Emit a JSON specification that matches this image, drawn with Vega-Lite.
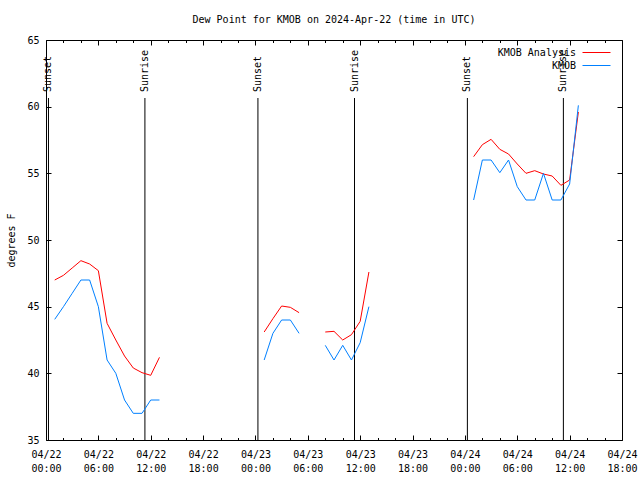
{
  "$schema": "https://vega.github.io/schema/vega-lite/v6.json",
  "width": 576,
  "height": 400,
  "autosize": "none",
  "padding": {"left": 46, "top": 40, "right": 18, "bottom": 40},
  "background": "white",
  "config": {
    "font": "DejaVu Sans Mono",
    "view": {"stroke": "#000", "strokeWidth": 1},
    "axis": {"domain": false, "grid": false, "tickColor": "#000", "labelColor": "#000", "labelFont": "DejaVu Sans Mono", "labelFontSize": 10, "titleFont": "DejaVu Sans Mono", "titleFontSize": 10, "titleFontWeight": "normal", "titleColor": "#000"}
  },
  "title": {"text": "Dew Point for KMOB on 2024-Apr-22 (time in UTC)", "fontSize": 10, "fontWeight": "normal", "font": "DejaVu Sans Mono", "color": "#000", "offset": 10, "anchor": "middle"},
  "datasets": {
    "dew": [
      {"time": "2024-04-22T01:00:00Z", "series": "KMOB Analysis", "seg": "a1", "value": 47.0},
      {"time": "2024-04-22T02:00:00Z", "series": "KMOB Analysis", "seg": "a1", "value": 47.35},
      {"time": "2024-04-22T03:00:00Z", "series": "KMOB Analysis", "seg": "a1", "value": 47.9},
      {"time": "2024-04-22T04:00:00Z", "series": "KMOB Analysis", "seg": "a1", "value": 48.45},
      {"time": "2024-04-22T05:00:00Z", "series": "KMOB Analysis", "seg": "a1", "value": 48.2},
      {"time": "2024-04-22T06:00:00Z", "series": "KMOB Analysis", "seg": "a1", "value": 47.7},
      {"time": "2024-04-22T07:00:00Z", "series": "KMOB Analysis", "seg": "a1", "value": 43.75},
      {"time": "2024-04-22T08:00:00Z", "series": "KMOB Analysis", "seg": "a1", "value": 42.5},
      {"time": "2024-04-22T09:00:00Z", "series": "KMOB Analysis", "seg": "a1", "value": 41.3},
      {"time": "2024-04-22T10:00:00Z", "series": "KMOB Analysis", "seg": "a1", "value": 40.4},
      {"time": "2024-04-22T11:00:00Z", "series": "KMOB Analysis", "seg": "a1", "value": 40.05},
      {"time": "2024-04-22T12:00:00Z", "series": "KMOB Analysis", "seg": "a1", "value": 39.85},
      {"time": "2024-04-22T13:00:00Z", "series": "KMOB Analysis", "seg": "a1", "value": 41.2},
      {"time": "2024-04-23T01:00:00Z", "series": "KMOB Analysis", "seg": "a2", "value": 43.1},
      {"time": "2024-04-23T02:00:00Z", "series": "KMOB Analysis", "seg": "a2", "value": 44.1},
      {"time": "2024-04-23T03:00:00Z", "series": "KMOB Analysis", "seg": "a2", "value": 45.05},
      {"time": "2024-04-23T04:00:00Z", "series": "KMOB Analysis", "seg": "a2", "value": 44.95},
      {"time": "2024-04-23T05:00:00Z", "series": "KMOB Analysis", "seg": "a2", "value": 44.55},
      {"time": "2024-04-23T08:00:00Z", "series": "KMOB Analysis", "seg": "a3", "value": 43.1},
      {"time": "2024-04-23T09:00:00Z", "series": "KMOB Analysis", "seg": "a3", "value": 43.15},
      {"time": "2024-04-23T10:00:00Z", "series": "KMOB Analysis", "seg": "a3", "value": 42.5},
      {"time": "2024-04-23T11:00:00Z", "series": "KMOB Analysis", "seg": "a3", "value": 42.9},
      {"time": "2024-04-23T12:00:00Z", "series": "KMOB Analysis", "seg": "a3", "value": 43.9},
      {"time": "2024-04-23T13:00:00Z", "series": "KMOB Analysis", "seg": "a3", "value": 47.6},
      {"time": "2024-04-24T01:00:00Z", "series": "KMOB Analysis", "seg": "a4", "value": 56.25},
      {"time": "2024-04-24T02:00:00Z", "series": "KMOB Analysis", "seg": "a4", "value": 57.15},
      {"time": "2024-04-24T03:00:00Z", "series": "KMOB Analysis", "seg": "a4", "value": 57.55},
      {"time": "2024-04-24T04:00:00Z", "series": "KMOB Analysis", "seg": "a4", "value": 56.8},
      {"time": "2024-04-24T05:00:00Z", "series": "KMOB Analysis", "seg": "a4", "value": 56.45},
      {"time": "2024-04-24T06:00:00Z", "series": "KMOB Analysis", "seg": "a4", "value": 55.7},
      {"time": "2024-04-24T07:00:00Z", "series": "KMOB Analysis", "seg": "a4", "value": 55.0},
      {"time": "2024-04-24T08:00:00Z", "series": "KMOB Analysis", "seg": "a4", "value": 55.2},
      {"time": "2024-04-24T09:00:00Z", "series": "KMOB Analysis", "seg": "a4", "value": 54.95},
      {"time": "2024-04-24T10:00:00Z", "series": "KMOB Analysis", "seg": "a4", "value": 54.8},
      {"time": "2024-04-24T11:00:00Z", "series": "KMOB Analysis", "seg": "a4", "value": 54.1},
      {"time": "2024-04-24T12:00:00Z", "series": "KMOB Analysis", "seg": "a4", "value": 54.5},
      {"time": "2024-04-24T13:00:00Z", "series": "KMOB Analysis", "seg": "a4", "value": 59.6},
      {"time": "2024-04-22T01:00:00Z", "series": "KMOB", "seg": "b1", "value": 44.05},
      {"time": "2024-04-22T02:00:00Z", "series": "KMOB", "seg": "b1", "value": 45.0},
      {"time": "2024-04-22T03:00:00Z", "series": "KMOB", "seg": "b1", "value": 46.0},
      {"time": "2024-04-22T04:00:00Z", "series": "KMOB", "seg": "b1", "value": 47.0},
      {"time": "2024-04-22T05:00:00Z", "series": "KMOB", "seg": "b1", "value": 47.0},
      {"time": "2024-04-22T06:00:00Z", "series": "KMOB", "seg": "b1", "value": 45.0},
      {"time": "2024-04-22T07:00:00Z", "series": "KMOB", "seg": "b1", "value": 41.0},
      {"time": "2024-04-22T08:00:00Z", "series": "KMOB", "seg": "b1", "value": 40.0},
      {"time": "2024-04-22T09:00:00Z", "series": "KMOB", "seg": "b1", "value": 38.0},
      {"time": "2024-04-22T10:00:00Z", "series": "KMOB", "seg": "b1", "value": 37.0},
      {"time": "2024-04-22T11:00:00Z", "series": "KMOB", "seg": "b1", "value": 37.0},
      {"time": "2024-04-22T12:00:00Z", "series": "KMOB", "seg": "b1", "value": 38.0},
      {"time": "2024-04-22T13:00:00Z", "series": "KMOB", "seg": "b1", "value": 38.0},
      {"time": "2024-04-23T01:00:00Z", "series": "KMOB", "seg": "b2", "value": 41.0},
      {"time": "2024-04-23T02:00:00Z", "series": "KMOB", "seg": "b2", "value": 43.0},
      {"time": "2024-04-23T03:00:00Z", "series": "KMOB", "seg": "b2", "value": 44.0},
      {"time": "2024-04-23T04:00:00Z", "series": "KMOB", "seg": "b2", "value": 44.0},
      {"time": "2024-04-23T05:00:00Z", "series": "KMOB", "seg": "b2", "value": 43.0},
      {"time": "2024-04-23T08:00:00Z", "series": "KMOB", "seg": "b3", "value": 42.1},
      {"time": "2024-04-23T09:00:00Z", "series": "KMOB", "seg": "b3", "value": 41.0},
      {"time": "2024-04-23T10:00:00Z", "series": "KMOB", "seg": "b3", "value": 42.1},
      {"time": "2024-04-23T11:00:00Z", "series": "KMOB", "seg": "b3", "value": 41.0},
      {"time": "2024-04-23T12:00:00Z", "series": "KMOB", "seg": "b3", "value": 42.3},
      {"time": "2024-04-23T13:00:00Z", "series": "KMOB", "seg": "b3", "value": 45.0},
      {"time": "2024-04-24T01:00:00Z", "series": "KMOB", "seg": "b4", "value": 53.0},
      {"time": "2024-04-24T02:00:00Z", "series": "KMOB", "seg": "b4", "value": 56.0},
      {"time": "2024-04-24T03:00:00Z", "series": "KMOB", "seg": "b4", "value": 56.0},
      {"time": "2024-04-24T04:00:00Z", "series": "KMOB", "seg": "b4", "value": 55.05},
      {"time": "2024-04-24T05:00:00Z", "series": "KMOB", "seg": "b4", "value": 56.0},
      {"time": "2024-04-24T06:00:00Z", "series": "KMOB", "seg": "b4", "value": 54.0},
      {"time": "2024-04-24T07:00:00Z", "series": "KMOB", "seg": "b4", "value": 53.0},
      {"time": "2024-04-24T08:00:00Z", "series": "KMOB", "seg": "b4", "value": 53.0},
      {"time": "2024-04-24T09:00:00Z", "series": "KMOB", "seg": "b4", "value": 55.0},
      {"time": "2024-04-24T10:00:00Z", "series": "KMOB", "seg": "b4", "value": 53.0},
      {"time": "2024-04-24T11:00:00Z", "series": "KMOB", "seg": "b4", "value": 53.0},
      {"time": "2024-04-24T12:00:00Z", "series": "KMOB", "seg": "b4", "value": 54.2},
      {"time": "2024-04-24T13:00:00Z", "series": "KMOB", "seg": "b4", "value": 60.1}
    ],
    "sun": [
      {"time": "2024-04-22T00:17:00Z", "label": "Sunset"},
      {"time": "2024-04-22T11:20:00Z", "label": "Sunrise"},
      {"time": "2024-04-23T00:17:00Z", "label": "Sunset"},
      {"time": "2024-04-23T11:21:00Z", "label": "Sunrise"},
      {"time": "2024-04-24T00:17:00Z", "label": "Sunset"},
      {"time": "2024-04-24T11:17:00Z", "label": "Sunrise"}
    ]
  },
  "layer": [
    {
      "data": {"name": "sun"},
      "mark": {"type": "rule", "color": "#000", "strokeWidth": 1},
      "encoding": {
        "x": {"field": "time", "type": "temporal",
          "axis": {"orient": "top", "title": null, "labels": false, "tickCount": 100, "tickSize": -5,
            "values": [1713744000000, 1713765600000, 1713787200000, 1713808800000, 1713830400000, 1713852000000, 1713873600000, 1713895200000, 1713916800000, 1713938400000, 1713960000000, 1713981600000]}},
        "y": {"datum": 35, "type": "quantitative",
          "axis": {"orient": "right", "title": null, "labels": false, "tickCount": 100, "tickSize": -5, "values": [35, 40, 45, 50, 55, 60, 65]}},
        "y2": {"datum": 60.65}
      }
    },
    {
      "data": {"name": "sun"},
      "mark": {"type": "text", "angle": 270, "align": "left", "baseline": "middle", "font": "DejaVu Sans Mono", "fontSize": 10, "color": "#000"},
      "encoding": {
        "x": {"field": "time", "type": "temporal",
          "axis": {"orient": "bottom", "title": null, "labels": false, "tickCount": 100, "tickSize": -2.5,
            "values": [1713751200000, 1713758400000, 1713772800000, 1713780000000, 1713794400000, 1713801600000, 1713816000000, 1713823200000, 1713837600000, 1713844800000, 1713859200000, 1713866400000, 1713880800000, 1713888000000, 1713902400000, 1713909600000, 1713924000000, 1713931200000, 1713945600000, 1713952800000, 1713967200000, 1713974400000]}},
        "y": {"datum": 61.1, "type": "quantitative", "axis": null},
        "text": {"field": "label"}
      }
    },
    {
      "data": {"name": "dew"},
      "mark": {"type": "line", "strokeWidth": 1, "interpolate": "linear"},
      "encoding": {
        "x": {"field": "time", "type": "temporal",
          "scale": {"type": "utc", "domain": [1713744000000, 1713981600000]},
          "axis": {"orient": "bottom", "title": null, "tickCount": 100, "tickSize": -5,
            "values": [1713744000000, 1713765600000, 1713787200000, 1713808800000, 1713830400000, 1713852000000, 1713873600000, 1713895200000, 1713916800000, 1713938400000, 1713960000000, 1713981600000],
            "labelExpr": "[utcFormat(datum.value, '%m/%d'), utcFormat(datum.value, '%H:%M')]",
            "labelBaseline": "top", "labelLineHeight": 14, "labelPadding": 14, "labelOverlap": false, "labelFlush": false}},
        "y": {"field": "value", "type": "quantitative",
          "scale": {"domain": [35, 65], "nice": false, "zero": false},
          "axis": {"orient": "left", "title": "degrees F", "tickCount": 100, "format": "d", "values": [35, 40, 45, 50, 55, 60, 65], "tickSize": -5, "labelPadding": 12, "titlePadding": 10}},
        "color": {"field": "series", "type": "nominal",
          "scale": {"domain": ["KMOB Analysis", "KMOB"], "range": ["#ff0000", "#0080ff"]},
          "legend": {"orient": "none", "legendX": 543, "legendY": 5, "title": null, "symbolType": "M-2,0H2", "symbolSize": 196, "symbolStrokeWidth": 1, "labelAlign": "right", "labelOffset": -28, "labelFont": "DejaVu Sans Mono", "labelFontSize": 10, "labelColor": "#000", "rowPadding": -4}},
        "detail": {"field": "seg"}
      }
    },
    {
      "data": {"name": "sun"},
      "mark": {"type": "rule", "strokeOpacity": 0},
      "encoding": {
        "x": {"field": "time", "type": "temporal",
          "axis": {"orient": "top", "title": null, "labels": false, "tickCount": 100, "tickSize": -2.5,
            "values": [1713751200000, 1713758400000, 1713772800000, 1713780000000, 1713794400000, 1713801600000, 1713816000000, 1713823200000, 1713837600000, 1713844800000, 1713859200000, 1713866400000, 1713880800000, 1713888000000, 1713902400000, 1713909600000, 1713924000000, 1713931200000, 1713945600000, 1713952800000, 1713967200000, 1713974400000]}}
      }
    }
  ]
}
